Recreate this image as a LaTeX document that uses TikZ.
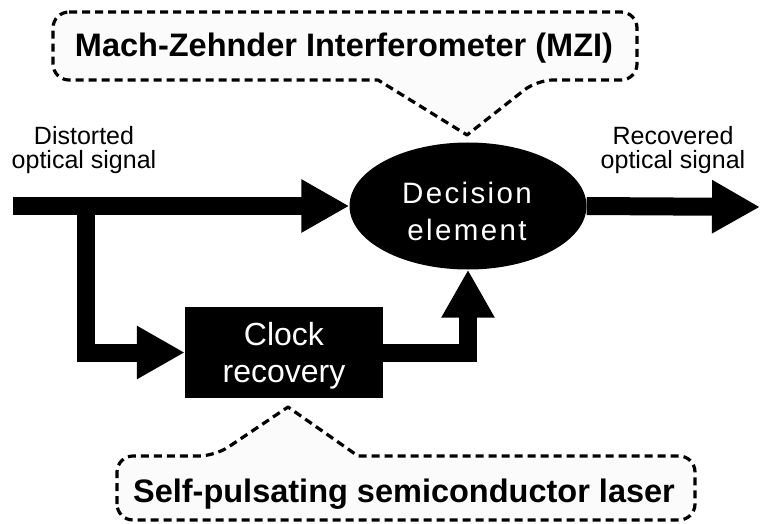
\documentclass[tikz,border=0pt]{standalone}
\usepackage{fontspec}
\setmainfont{Liberation Sans}
\newfontfamily\spaced[LetterSpace=8]{Liberation Sans}
\usetikzlibrary{arrows.meta,shapes.geometric}
\begin{document}
\begin{tikzpicture}[x=1pt,y=-1pt,
  flow/.style={line width=18pt, line join=miter, -{Triangle[length=48pt,width=50pt]}},
  callout/.style={draw=black, fill=gray!3, line width=3.2pt, dash pattern=on 8pt off 5pt, line join=round},
  lbl/.style={font=\fontsize{25}{24}\selectfont, align=center, inner sep=0pt},
  title/.style={font=\bfseries\fontsize{32.5}{32}\selectfont, inner sep=0pt},
  wtext/.style={text=white, align=center, inner sep=0pt},
  blk/.style={fill=black, inner sep=0pt}
]
\useasboundingbox (0,0) rectangle (763,524);

% top callout
\draw[callout, rounded corners=16pt] (53,12) -- (637,12) -- (637,80) -- (537,80)
   [sharp corners] -- (467,135) -- (378,80) [rounded corners=16pt] -- (53,80) -- cycle;
\node[title, anchor=base] (mzi) at (344,57) {Mach-Zehnder Interferometer (MZI)};

% bottom callout
\draw[callout, rounded corners=16pt] (117,520) -- (117,456) -- (215,456)
   [sharp corners] -- (288,407) -- (358,456) [rounded corners=16pt] -- (695,456) -- (695,520) -- cycle;
\node[title, anchor=base] (spl) at (404,502) {Self-pulsating semiconductor laser};

% decision element
\node[blk, ellipse, minimum width=237pt, minimum height=127pt] (dec) at (468,206) {};
\node[wtext, anchor=base, font=\spaced\fontsize{29.5}{37}\selectfont] (dect) at (467,240) {Decision\\element};

% clock recovery
\node[blk, minimum width=198pt, minimum height=91pt] (clk) at (284,352.5) {};
\node[wtext, anchor=base, font=\fontsize{32}{37}\selectfont] (clkt) at (284,382) {Clock\\recovery};

% labels
\node[lbl, anchor=base] (din) at (84,168) {Distorted\\optical signal};
\node[lbl, anchor=base] (dout) at (673,168) {Recovered\\optical signal};

% connectors
\coordinate (in) at (13,206);
\coordinate (split) at (86,206);
\coordinate (out) at (760,207);
\draw[flow] (in) -- (dec.west);
\draw[flow] (split) |- (clk.west);
\draw[flow] (clk.east) -| (dec.south);
\draw[flow] (dec.east) -- (out);
\end{tikzpicture}
\end{document}
